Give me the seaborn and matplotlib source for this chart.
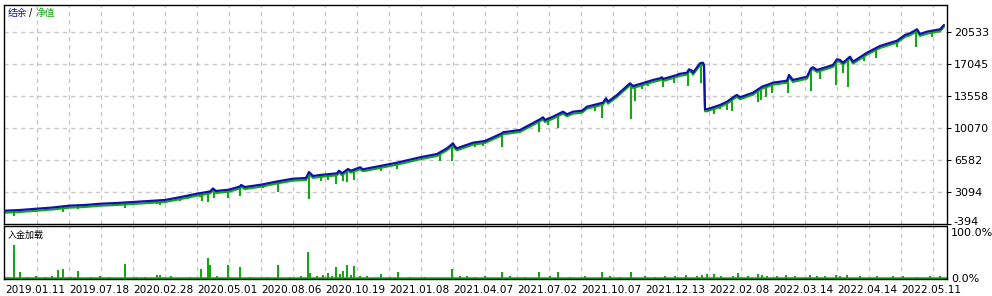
import numpy as np
import pandas as pd
import matplotlib
matplotlib.use("Agg")
import matplotlib.pyplot as plt
import matplotlib.transforms as mtransforms
from matplotlib.patches import Rectangle
import seaborn as sns

# ---------------- data ----------------
# trade index positions and balance values (blue)
bal_idx = [0, 15, 32, 48, 64, 80, 96, 112, 128, 144, 160, 176, 192, 205, 208, 211, 224,
           235, 236, 240, 256, 272, 288, 301, 304, 308, 315, 332, 334, 337, 343, 346, 355,
           358, 375, 392, 415, 432, 442, 448, 450, 452, 468, 480, 497, 498, 515, 535, 538,
           540, 548, 558, 562, 568, 577, 582, 598, 601, 603, 612, 625, 628, 635, 648, 655,
           657, 658, 672, 674, 682, 684, 687, 688, 695, 698, 699, 700, 702, 715, 722, 730,
           732, 735, 748, 757, 762, 768, 782, 784, 788, 802, 806, 808, 812, 828, 832, 835,
           838, 845, 848, 862, 875, 892, 900, 905, 912, 915, 922, 935, 939]
bal_val = [1056, 1132, 1274, 1405, 1601, 1677, 1819, 1895, 2004, 2113, 2222, 2549, 2909,
           3149, 3476, 3203, 3345, 3694, 3857, 3639, 3890, 4239, 4544, 4620, 5274, 4838,
           4947, 5132, 5416, 5132, 5601, 5416, 5786, 5568, 5928, 6288, 6876, 7236, 7857,
           8402, 8032, 7857, 8468, 8653, 9492, 9601, 9852, 11018, 11236, 10942, 11302,
           11847, 11563, 11847, 11956, 12392, 12828, 13307, 12937, 13667, 14942, 14648,
           14866, 15302, 15487, 15596, 15411, 15847, 15956, 16098, 16468, 16316, 16098,
           17122, 17188, 16937, 12108, 12108, 12577, 12937, 13558, 13667, 13416, 13918,
           14572, 14757, 15008, 15226, 15847, 15302, 15662, 16577, 16686, 16392, 16937,
           17558, 17482, 17188, 17842, 17297, 18278, 19008, 19586, 20207, 20392, 20828,
           20316, 20567, 20828, 21297]

# equity drawdown spikes (green)
dip_idx = [9, 15, 31, 53, 58, 73, 82, 108, 120, 132, 152, 155, 175, 183, 195, 197, 203,
           209, 223, 235, 258, 273, 304, 316, 323, 331, 338, 342, 349, 376, 392, 435, 447,
           470, 478, 497, 534, 543, 553, 590, 597, 626, 630, 637, 643, 658, 669, 683, 696,
           709, 715, 722, 727, 753, 756, 761, 767, 783, 806, 815, 831, 838, 843, 859, 871,
           892, 911, 927, 936]
dip_val = [511, 881, 947, 1099, 947, 1274, 1426, 1677, 1383, 1753, 1786, 1710, 2146, 2364,
           2582, 2146, 2037, 2473, 2473, 2691, 3563, 3127, 2364, 4326, 4402, 3933, 4293,
           4151, 4402, 5416, 5568, 6473, 6506, 8032, 8108, 8032, 9667, 10430, 10103, 11923,
           11193, 11084, 13000, 14288, 14648, 14572, 15008, 14681, 15008, 11629, 12108,
           12032, 11956, 12937, 13122, 13416, 13852, 13852, 14070, 15444, 14790, 16098,
           14572, 17373, 17733, 18932, 18932, 20022, 20676]

# deposit load (%)
load_idx = [9, 15, 31, 53, 58, 73, 120, 152, 155, 196, 203, 205, 223, 235, 273, 303, 305,
            323, 331, 338, 342, 349, 376, 393, 447, 497, 534, 553, 597, 626,
            3, 22, 40, 47, 66, 86, 95, 104, 131, 140, 166, 185, 212, 245, 262, 285, 296,
            312, 318, 327, 335, 346, 355, 362, 385, 405, 420, 455, 462, 470, 480, 505, 520,
            545, 565, 580, 605, 615, 640, 650, 660, 670, 681, 692, 697, 702, 709, 716, 728,
            733, 743, 753, 757, 762, 772, 781, 790, 805, 812, 820, 831, 835, 842, 855, 872,
            888, 898, 912, 925, 935]
load_val = [71, 13, 5, 19, 21, 17, 31, 7, 7, 21, 43, 30, 29, 25, 28, 57, 12,
            11, 24, 17, 28, 26, 10, 13, 21, 13, 13, 13, 13, 13,
            3, 4, 3, 5, 4, 3, 5, 3, 4, 3, 5, 3, 6, 3, 4, 3, 6,
            5, 8, 6, 9, 7, 5, 6, 4, 3, 4, 5, 6, 4, 5, 6, 4,
            5, 4, 6, 5, 4, 5, 4, 6, 5, 7, 5, 8, 10, 9, 6, 5,
            11, 6, 9, 8, 6, 5, 7, 5, 8, 6, 5, 7, 6, 8, 6, 5,
            6, 5, 4, 5, 6]

date_labels = ["2019.01.11", "2019.07.18", "2020.02.28", "2020.05.01", "2020.08.06",
               "2020.10.19", "2021.01.08", "2021.04.07", "2021.07.02", "2021.10.07",
               "2021.12.13", "2022.02.08", "2022.03.14", "2022.04.14", "2022.05.11"]
ytick_vals = [-394, 3094, 6582, 10070, 13558, 17045, 20533]
ytick_text = ["-394", "3094", "6582", "10070", "13558", "17045", "20533"]

# ---------------- style ----------------
sns.set_style("white")
plt.rcParams['font.family'] = ['DejaVu Sans']
BLUE = "#1010b0"
GREEN = "#12a812"
GRID = "#c8c8c8"
FS = 8
FSX = 7.6
W, H = 992, 296
fig = plt.figure(figsize=(W / 100, H / 100), dpi=100)
fig.patch.set_facecolor("white")

def fx(px):
    return px / W

def fy(py):
    return 1 - py / H

ax = fig.add_axes([fx(4), fy(224), fx(943), 219 / H])
ax2 = fig.add_axes([fx(4), fy(279), fx(943), 53 / H])

XMIN, XMAX = -1, 942
ymin = -394
step = (20533 + 394) / 6
ymax = ymin + step * 219 / 32

# --- main panel ---
bal_df = pd.DataFrame({"trade": bal_idx, "value": bal_val})
for i in range(1, 30):
    ax.axvline(32 * i, color=GRID, lw=1.0, ls=(0, (3, 3)), zorder=0)
for v in ytick_vals[1:]:
    ax.axhline(v, color=GRID, lw=1.0, ls=(0, (3, 3)), zorder=0)

tops = np.interp(dip_idx, bal_idx, bal_val)
ax.vlines(dip_idx, dip_val, tops, color=GREEN, lw=1.5, zorder=2)
sns.lineplot(data=bal_df, x="trade", y="value", ax=ax, color=GREEN, lw=1.5,
             estimator=None, sort=False, zorder=2)
green_line = ax.lines[-1]
green_line.set_transform(mtransforms.offset_copy(ax.transData, fig=fig, x=0, y=-2.0, units="dots"))
sns.lineplot(data=bal_df, x="trade", y="value", ax=ax, color=BLUE, lw=1.6,
             estimator=None, sort=False, zorder=3)

ax.set_xlim(XMIN, XMAX)
ax.set_ylim(ymin, ymax)
ax.set_xlabel("")
ax.set_ylabel("")
ax.set_xticks([])
ax.yaxis.tick_right()
ax.set_yticks(ytick_vals)
ax.set_yticklabels(ytick_text)
ax.tick_params(axis="y", direction="out", length=3, width=0.8, pad=2,
               labelsize=FS, colors="black", right=True, left=False)
# lift the bottom label a little (it is half hidden in the reference)
lab0 = ax.get_yticklabels()[0]
lab0.set_transform(lab0.get_transform() + mtransforms.ScaledTranslation(0, 2.5 / 72, fig.dpi_scale_trans))
for s in ax.spines.values():
    s.set_color("black")
    s.set_linewidth(1.0)

fig.text(fx(8), fy(13), "结余", color=BLUE, fontsize=7, va="center", ha="left",
         family=["Noto Sans CJK SC", "DejaVu Sans"])
fig.text(fx(29), fy(13), "/", color="black", fontsize=7, va="center", ha="left")
fig.text(fx(36), fy(13), "净值", color=GREEN, fontsize=7, va="center", ha="left",
         family=["Noto Sans CJK SC", "DejaVu Sans"])

# --- deposit load panel ---
for i in range(1, 30):
    ax2.axvline(32 * i, color=GRID, lw=1.0, ls=(0, (3, 3)), zorder=0)
ax2.bar(load_idx, load_val, width=2.0, color=GREEN, linewidth=0, zorder=2)
ax2.axhline(1.5, color=GREEN, lw=1.8, zorder=2)
ax2.set_xlim(XMIN, XMAX)
ax2.set_ylim(-1.1, 112.9)
ax2.yaxis.tick_right()
ax2.set_yticks([0, 100])
ax2.set_yticklabels(["0.0%", "100.0%"])
ax2.tick_params(axis="y", direction="out", length=0, pad=3, labelsize=FS, colors="black")
ax2.set_xticks([64 * k for k in range(15)])
ax2.set_xticklabels(date_labels, ha="left")
ax2.set_xticks([32 + 64 * k for k in range(15)], minor=True)
ax2.tick_params(axis="x", which="major", direction="out", length=3, width=0.8, pad=1.0,
                labelsize=FSX, colors="black")
ax2.tick_params(axis="x", which="minor", direction="out", length=2, width=0.8)
for lab in ax2.get_xticklabels():
    lab.set_horizontalalignment("left")
ax2.set_xlabel("")
ax2.set_ylabel("")
for s in ax2.spines.values():
    s.set_color("black")
    s.set_linewidth(1.0)
fig.text(fx(8), fy(235), "入金加载", color="black", fontsize=6.5, va="center", ha="left",
         family=["Noto Sans CJK SC", "DejaVu Sans"])

# partially hide the bottom value label like the reference
fig.patches.append(Rectangle((fx(948), fy(228)), fx(44), 2.5 / H, transform=fig.transFigure,
                             facecolor="white", edgecolor="none", zorder=5))

fig.savefig("out.png", dpi=100, facecolor="white")
